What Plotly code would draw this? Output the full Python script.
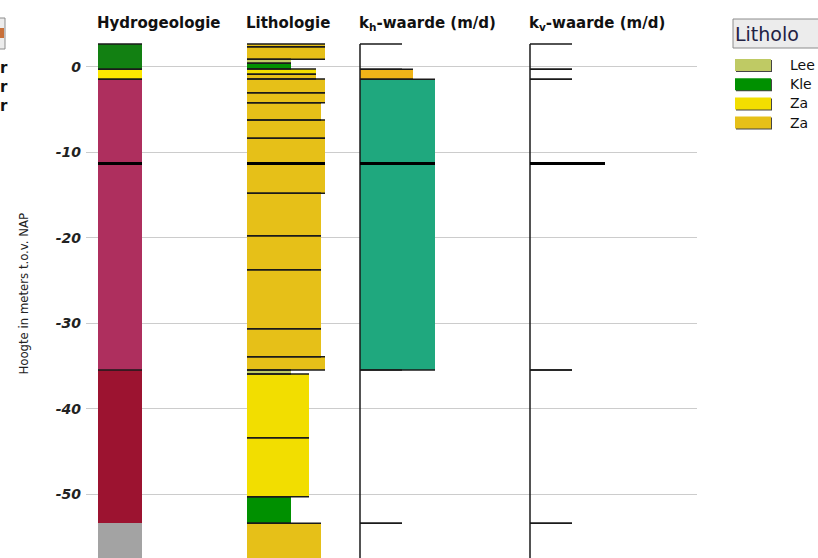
import math
import plotly.graph_objects as go

# ---------------- data ----------------
# Hydrogeologie (m t.o.v. NAP)
hydro_top = [2.68, -0.28, -1.45, -35.47, -53.41]
hydro_bot = [-0.28, -1.45, -35.47, -53.41, -62.0]
hydro_unit = ["Deklaag klei", "Deklaag zand", "Watervoerend pakket 1", "Scheidende laag", "Onbekend"]

# Lithologie
litho_top = [2.68, 2.36, 0.89, 0.42, -0.25, -0.85, -1.42, -3.02, -4.19, -6.21, -8.36, -11.3,
             -14.79, -19.75, -23.73, -30.64, -33.91, -35.47, -35.94, -43.39, -50.3, -53.41]
litho_bot = [2.36, 0.89, 0.42, -0.25, -0.85, -1.42, -3.02, -4.19, -6.21, -8.36, -11.3, -14.79,
             -19.75, -23.73, -30.64, -33.91, -35.47, -35.94, -43.39, -50.3, -53.41, -62.0]
litho_type = ["Zand", "Zand", "Leem", "Klei", "Zand fijn", "Zand", "Zand", "Zand", "Zand", "Zand", "Zand",
              "Zand", "Zand", "Zand", "Zand", "Zand", "Zand", "Leem", "Zand fijn", "Zand fijn", "Klei", "Zand"]
litho_grain = [4, 4, 0, 0, 2, 2, 4, 4, 3, 4, 4, 4, 3, 3, 3, 3, 4, 0, 1, 1, 0, 3]

# kh / kv (m/d)
k_top = [2.68, -0.28, -1.45, -35.47, -53.41]
k_bot = [-0.28, -1.45, -35.47, -53.41, -62.0]
kh_value = [None, 5, 30, None, None]
kv_value = [None, None, None, None, None]

marker_depth = -11.3

tick_vals = [0, -10, -20, -30, -40, -50]
tick_text = ["0", "-10", "-20", "-30", "-40", "-50"]

legend_names = ["Lee", "Kle", "Za", "Za"]
legend_types = ["Leem", "Klei", "Zand fijn", "Zand"]

# ---------------- styling / layout ----------------
W, H = 818, 558
L, R, T, B = 86, 121, 30, 0
PW, PH = W - L - R, H - T - B
Y_TOP, Y_BOT = 4.32, -57.47

col_left = {"hydro": 12, "litho": 161, "kh": 274, "kv": 444}
col_width = {"hydro": 44, "litho": 78, "kh": 75, "kv": 75}
grain_width = {0: 44, 1: 62, 2: 69, 3: 74, 4: 78}
K_EMPTY = 42

hydro_color = {"Deklaag klei": "#128012", "Deklaag zand": "#fde800",
               "Watervoerend pakket 1": "#ae2f5e", "Scheidende laag": "#9c1330",
               "Onbekend": "#a3a3a3"}
litho_color = {"Leem": "#bfca64", "Klei": "#009000", "Zand fijn": "#f2de00", "Zand": "#e6c018"}
LINE = "#1a1a1a"


def kh_width(v):
    if v is None:
        return K_EMPTY
    return 33.2 + 28.3 * math.log10(v)


def kh_color(v):
    if v is None:
        return None
    return "#f0b418" if v < 10 else "#1fa87e"


def px_x(px):
    return (px - L) / PW


def px_y(py):
    return 1 - (py - T) / PH


fig = go.Figure()


def add_bars(left, tops, bots, widths, colors):
    xs, ys, bs, ws, cs = [], [], [], [], []
    for t, b, w, c in zip(tops, bots, widths, colors):
        if c is None:
            continue
        xs.append(left + w / 2)
        ys.append(t - b)
        bs.append(b)
        ws.append(w)
        cs.append(c)
    fig.add_trace(go.Bar(x=xs, y=ys, base=bs, width=ws, marker=dict(color=cs, line=dict(width=0)),
                         showlegend=False, hoverinfo="skip"))


def add_edges(left, tops, bots, widths, lw=1.5):
    xs, ys = [], []
    for t, b, w in zip(tops, bots, widths):
        for d in (t, b):
            xs += [left, left + w, None]
            ys += [d, d, None]
    fig.add_trace(go.Scatter(x=xs, y=ys, mode="lines", line=dict(color=LINE, width=lw),
                             showlegend=False, hoverinfo="skip"))


# Hydrogeologie
hw = [col_width["hydro"]] * len(hydro_top)
add_bars(col_left["hydro"], hydro_top, hydro_bot, hw, [hydro_color[u] for u in hydro_unit])
add_edges(col_left["hydro"], hydro_top[:3], hydro_bot[:3], hw[:3])

# Lithologie
lw_ = [grain_width[g] for g in litho_grain]
add_bars(col_left["litho"], litho_top, litho_bot, lw_, [litho_color[t] for t in litho_type])
add_edges(col_left["litho"], litho_top, litho_bot, lw_)

# kh
khw = [kh_width(v) for v in kh_value]
add_bars(col_left["kh"], k_top, k_bot, khw, [kh_color(v) for v in kh_value])
add_edges(col_left["kh"], k_top, k_bot, khw)

# kv
kvw = [kh_width(v) for v in kv_value]
add_edges(col_left["kv"], k_top, k_bot, kvw)

# vertical axis lines of kh / kv columns
for c in ("kh", "kv"):
    fig.add_trace(go.Scatter(x=[col_left[c], col_left[c]], y=[k_top[0], k_bot[-1]], mode="lines",
                             line=dict(color=LINE, width=1.5), showlegend=False, hoverinfo="skip"))

# marker depth line
mx, my = [], []
for c in ("hydro", "litho", "kh", "kv"):
    mx += [col_left[c], col_left[c] + col_width[c], None]
    my += [marker_depth, marker_depth, None]
fig.add_trace(go.Scatter(x=mx, y=my, mode="lines", line=dict(color="#000000", width=3),
                         showlegend=False, hoverinfo="skip"))

# headers
hdr_font = dict(family="DejaVu Sans", size=15, color="#111111", weight="bold")
headers = [("hydro", "Hydrogeologie"), ("litho", "Lithologie"),
           ("kh", "k<sub>h</sub>-waarde (m/d)"), ("kv", "k<sub>v</sub>-waarde (m/d)")]
for c, txt in headers:
    fig.add_annotation(x=col_left[c], xref="x", y=px_y(23), yref="paper", text=txt,
                       xanchor="left", yanchor="middle", showarrow=False, font=hdr_font, xshift=-3)

# y-axis title
fig.add_annotation(x=px_x(22.5), y=px_y(294), xref="paper", yref="paper",
                   text="Hoogte in meters t.o.v. NAP", textangle=-90, showarrow=False,
                   xanchor="center", yanchor="middle",
                   font=dict(family="DejaVu Sans Condensed, DejaVu Sans", size=13, color="#222222"))

# legend button and items
fig.add_shape(type="rect", xref="paper", yref="paper", x0=px_x(733), x1=px_x(840),
              y0=px_y(48), y1=px_y(19), fillcolor="#ececec", line=dict(color="#8c8c8c", width=1))
fig.add_annotation(x=px_x(733), y=px_y(34), xref="paper", yref="paper", text="Litholo",
                   xanchor="left", yanchor="middle", showarrow=False,
                   font=dict(family="DejaVu Sans", size=19, color="#222244"))
for i, (nm, tp) in enumerate(zip(legend_names, legend_types)):
    ytop = 59 + i * 19.2
    fig.add_shape(type="rect", xref="paper", yref="paper", x0=px_x(736), x1=px_x(772),
                  y0=px_y(ytop + 13), y1=px_y(ytop + 1), fillcolor="#444444", line=dict(width=0))
    fig.add_shape(type="rect", xref="paper", yref="paper", x0=px_x(735), x1=px_x(771),
                  y0=px_y(ytop + 12), y1=px_y(ytop), fillcolor=litho_color[tp], line=dict(width=0))
    fig.add_annotation(x=px_x(788), y=px_y(ytop + 6), xref="paper", yref="paper", text=nm,
                       xanchor="left", yanchor="middle", showarrow=False,
                       font=dict(family="DejaVu Sans", size=14, color="#111111"))

# clipped left panel bits
fig.add_shape(type="rect", xref="paper", yref="paper", x0=px_x(-6), x1=px_x(5),
              y0=px_y(49), y1=px_y(18), fillcolor="#ececec", line=dict(color="#8c8c8c", width=1))
fig.add_shape(type="rect", xref="paper", yref="paper", x0=px_x(0), x1=px_x(4),
              y0=px_y(38), y1=px_y(28), fillcolor="#c8703a", line=dict(width=0))
for yy in (68, 87, 106):
    fig.add_annotation(x=px_x(-2), y=px_y(yy), xref="paper", yref="paper", text="r",
                       xanchor="left", yanchor="middle", showarrow=False,
                       font=dict(family="DejaVu Sans", size=15, color="#111111", weight="bold"))

fig.update_layout(
    width=W, height=H, margin=dict(l=L, r=R, t=T, b=B, pad=0),
    paper_bgcolor="white", plot_bgcolor="white", barmode="overlay", bargap=0,
    xaxis=dict(range=[0, PW], visible=False, fixedrange=True),
    yaxis=dict(range=[Y_BOT, Y_TOP], tickvals=tick_vals, ticktext=tick_text,
               showgrid=True, gridcolor="#cccccc", gridwidth=1, zeroline=False, showline=False,
               ticks="", ticklabelstandoff=4,
               tickfont=dict(family="DejaVu Sans", size=14, color="#222222", weight="bold", style="italic")),
    showlegend=False,
)

fig.write_html("out.html", config={"displayModeBar": False})
